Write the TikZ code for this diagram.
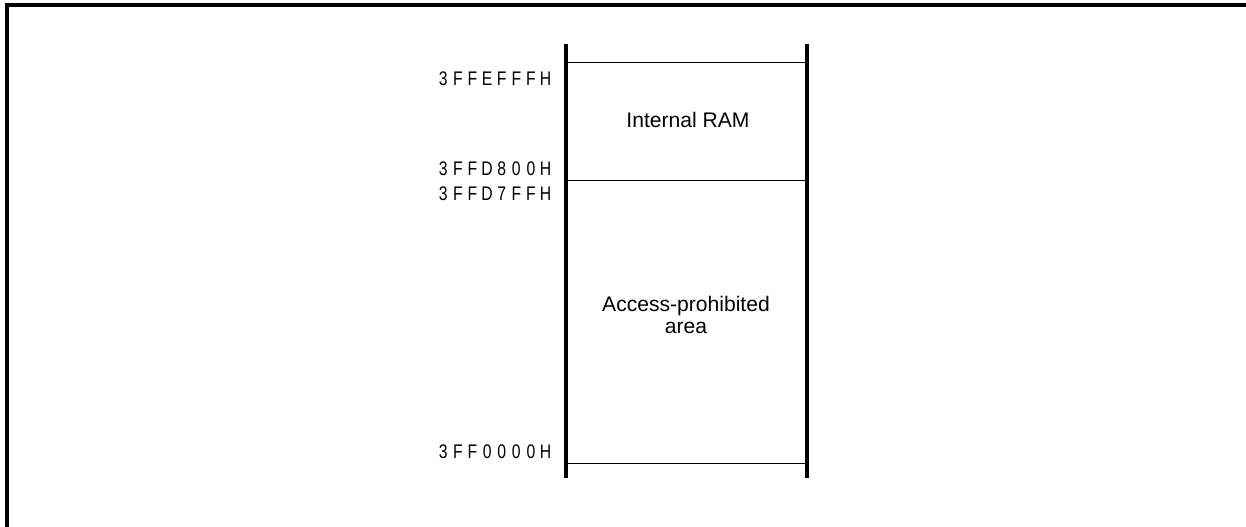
\documentclass[tikz,border=0pt]{standalone}
\usepackage{fontspec}
\setmainfont{Liberation Sans}
\usepackage{graphicx}
\usetikzlibrary{positioning}

% address text: narrow glyphs on a fixed pitch
\newcommand\addrtxt[1]{\addrloop#1\relax}
\def\addrloop#1{\ifx#1\relax\else\makebox[10.4pt][c]{\scalebox{0.8}[1]{#1}}\expandafter\addrloop\fi}

\tikzset{
  addr/.style={anchor=east, inner sep=0pt, font=\fontsize{14}{15}\selectfont},
  area/.style={align=center, inner sep=0pt, font=\fontsize{15}{15.4}\selectfont},
  border/.style={line width=2.2pt},
  side/.style={line width=2.4pt},
  bound/.style={line width=0.7pt}
}

\begin{document}
\begin{tikzpicture}
  \useasboundingbox (0,0) rectangle (31.15,-13.175);
  % frame
  \draw[border] (0.175,-13.4) -- (0.175,-0.125) -- (31.4,-0.125);
  % map sides
  \coordinate (ltop) at (14.15,-1.1);
  \coordinate (lbot) at (14.15,-11.95);
  \coordinate (rtop) at (20.175,-1.1);
  \coordinate (rbot) at (20.175,-11.95);
  \draw[side] (ltop) -- (lbot);
  \draw[side] (rtop) -- (rbot);
  % boundaries
  \foreach \y in {-1.55,-4.5,-11.575}
    \draw[bound] (14.15,\y) -- (20.175,\y);
  % areas
  \node[area] (ram) at (17.2,-3.0) {Internal RAM};
  \node[area] (prohib) at (17.15,-7.88) {Access-prohibited\\area};
  % addresses
  \node[addr] (a1) at (13.83,-1.975) {\addrtxt{3FFEFFFH}};
  \node[addr] (a2) at (13.83,-4.225) {\addrtxt{3FFD800H}};
  \node[addr] (a3) at (13.83,-4.85) {\addrtxt{3FFD7FFH}};
  \node[addr] (a4) at (13.83,-11.3) {\addrtxt{3FF0000H}};
\end{tikzpicture}
\end{document}
